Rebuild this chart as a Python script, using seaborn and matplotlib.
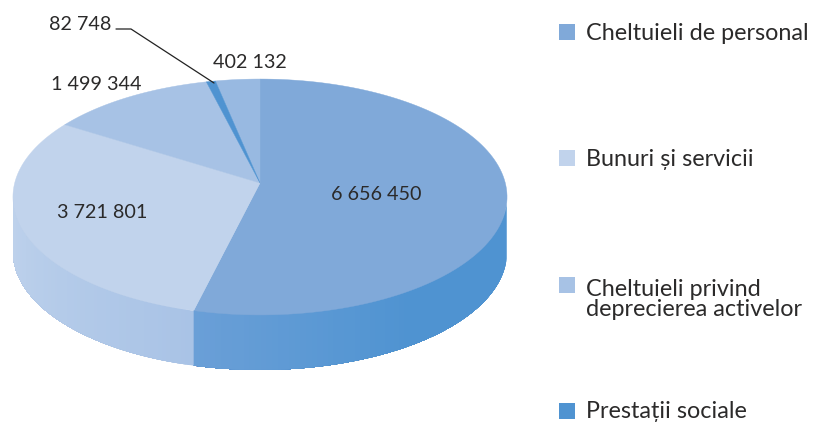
import numpy as np
import matplotlib
matplotlib.use("Agg")
import matplotlib.pyplot as plt
import seaborn as sns

# values
categories = ["Cheltuieli de personal", "Bunuri și servicii",
              "Cheltuieli privind\ndeprecierea activelor", "Prestații sociale"]
slice_values = [6656450, 3721801, 1499344, 82748, 402132]
slice_labels = ["6 656 450", "3 721 801", "1 499 344", "82 748", "402 132"]
slice_colors = ["#80a9d9", "#c1d3ec", "#a7c2e5", "#4f93d1", "#98b9e1"]
legend_colors = ["#80a9d9", "#c1d3ec", "#a7c2e5", "#4f93d1"]

sns.set_theme(style="white")
plt.rcParams["font.family"] = ["Lato", "DejaVu Sans"]

fig = plt.figure(figsize=(8.15, 4.24), dpi=100)
ax = fig.add_axes([0, 0, 1, 1])
ax.set_xlim(0, 815)
ax.set_ylim(424, 0)
ax.axis("off")

# tilted disc: circle seen in perspective, so the hub sits above the rim's middle
HUB_X, HUB_Y = 260, 183
A, B, K = 245.3, 116.3, 0.1186
DEPTH = 55


def rim(angle):
    u, v = np.sin(angle), np.cos(angle)
    d = 1 + K * v
    return HUB_X + A * u / d, HUB_Y - B * v / d


shares = np.cumsum([0] + slice_values) / sum(slice_values) * 2 * np.pi

# side wall, only the part that faces the viewer
side_ranges = [(np.radians(100), shares[1], ["#4f93d1", "#4f93d1", "#4f93d1", "#5c99d4", "#6a9fd7"]),
               (shares[1], np.radians(262), ["#a9c3e6", "#b4cbe9", "#bfd2ec"])]
for start, end, stops in side_ranges:
    n = 80
    angles = np.linspace(start, end, n + 1)
    shades = sns.blend_palette(stops, n)
    # each strip runs on to the end of the range so no seams show between strips
    for k, col in enumerate(shades):
        xs, ys = rim(angles[k:])
        ax.fill(np.r_[xs, xs[::-1]], np.r_[ys, ys[::-1] + DEPTH],
                color=col, lw=0, zorder=1)

# top face
for i, col in enumerate(slice_colors):
    t = np.linspace(shares[i], shares[i + 1], 120)
    xs, ys = rim(t)
    ax.fill(np.r_[HUB_X, xs], np.r_[HUB_Y, ys], color=col, lw=0.3, zorder=2 + (i == 3))

txt = "#2b2a2a"
fs = 14.2
legend_fs = 16.8
label_pos = [(376, 194), (102, 213), (96, 84), (80, 25), (250, 63)]
for lab, (x, y) in zip(slice_labels, label_pos):
    ax.text(x, y, lab, ha="center", va="center", fontsize=fs, color=txt, zorder=5)

# leader line for the small slice
ax.plot([116, 131, 214], [29, 29, 83], color="#222222", lw=0.9, zorder=4)

# legend
legend_y = [32, 158, 285, 411]
ax.scatter([567] * 4, legend_y, marker="s", s=125, c=legend_colors, linewidths=0, zorder=5)
for lab, y in zip(categories, legend_y):
    ny = y + (14.5 if "\n" in lab else 1)
    ax.text(586, ny, lab, ha="left", va="center", fontsize=legend_fs, color=txt,
            linespacing=1.0, zorder=5)

fig.savefig("out.png", dpi=100)
